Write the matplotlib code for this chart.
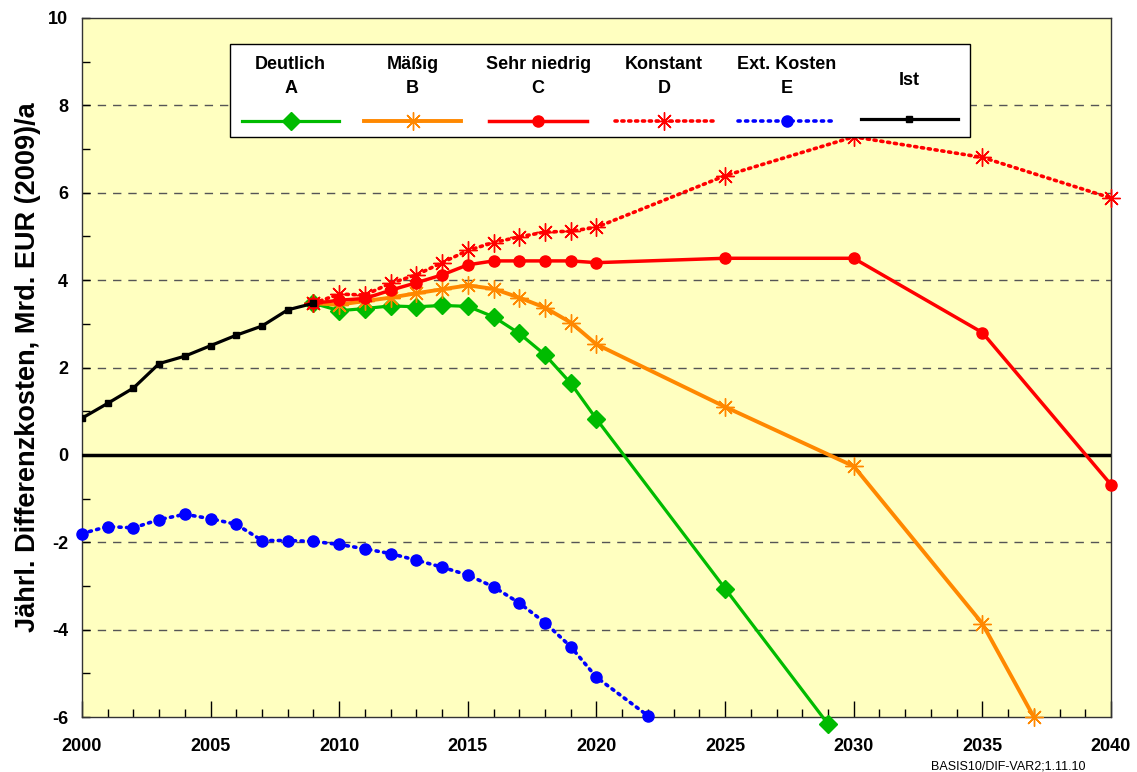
import numpy as np
import matplotlib
matplotlib.use("Agg")
import matplotlib.pyplot as plt
from matplotlib.ticker import MultipleLocator
from matplotlib.offsetbox import VPacker, DrawingArea

plt.rcParams["font.family"] = ["Liberation Sans", "DejaVu Sans"]
plt.rcParams["axes.unicode_minus"] = False

# --- data ---
years_ist = [2000, 2001, 2002, 2003, 2004, 2005, 2006, 2007, 2008, 2009]
ist = [0.84, 1.18, 1.53, 2.09, 2.26, 2.50, 2.74, 2.95, 3.32, 3.47]

years_scen = [2009, 2010, 2011, 2012, 2013, 2014, 2015, 2016, 2017, 2018, 2019, 2020,
              2025, 2030, 2035, 2040]
deutlich_years = [2009, 2010, 2011, 2012, 2013, 2014, 2015, 2016, 2017, 2018, 2019, 2020,
                  2025, 2029]
deutlich = [3.47, 3.30, 3.35, 3.41, 3.39, 3.42, 3.40, 3.16, 2.78, 2.29, 1.64, 0.82,
            -3.06, -6.16]
maessig_years = [2009, 2010, 2011, 2012, 2013, 2014, 2015, 2016, 2017, 2018, 2019, 2020,
                 2025, 2030, 2035, 2037]
maessig = [3.47, 3.44, 3.52, 3.60, 3.70, 3.79, 3.88, 3.80, 3.60, 3.37, 3.03, 2.53,
           1.10, -0.26, -3.86, -6.0]
sehr_niedrig = [3.47, 3.54, 3.58, 3.77, 3.94, 4.12, 4.35, 4.44, 4.44, 4.44, 4.44, 4.40,
                4.50, 4.50, 2.80, -0.68]
konstant = [3.47, 3.68, 3.66, 3.93, 4.12, 4.40, 4.68, 4.86, 4.99, 5.10, 5.12, 5.21,
            6.39, 7.28, 6.81, 5.88]
ext_years = [2000, 2001, 2002, 2003, 2004, 2005, 2006, 2007, 2008, 2009, 2010, 2011,
             2012, 2013, 2014, 2015, 2016, 2017, 2018, 2019, 2020, 2022]
ext_kosten = [-1.80, -1.64, -1.67, -1.48, -1.36, -1.46, -1.59, -1.96, -1.96, -1.98, -2.05,
              -2.15, -2.26, -2.41, -2.57, -2.75, -3.02, -3.39, -3.84, -4.39, -5.09, -5.97]

labels = ["Deutlich\nA", "Mäßig\nB", "Sehr niedrig\nC", "Konstant\nD", "Ext. Kosten\nE", "Ist"]

fig = plt.figure(figsize=(11.37, 7.72), dpi=100)
ax = fig.add_axes([0.0721, 0.0712, 0.905, 0.9055])
ax.set_facecolor("#FFFFC0")

star = (8, 2, 0)
h_a, = ax.plot(deutlich_years, deutlich, color="#00BB00", lw=2.3, marker="D",
               markersize=9, clip_on=False, zorder=4)
h_b, = ax.plot(maessig_years, maessig, color="#FF8800", lw=2.8, marker=star,
               markersize=13, mew=1.0, clip_on=False, zorder=4)
h_c, = ax.plot(years_scen, sehr_niedrig, color="#FF0000", lw=2.5, marker="o",
               markersize=8, clip_on=False, zorder=5)
h_d, = ax.plot(years_scen, konstant, color="#FF0000", lw=2.6, ls=(0, (0.6, 1.3)),
               dash_capstyle="round", marker=star, markersize=13, mew=1.0,
               clip_on=False, zorder=5)
h_e, = ax.plot(ext_years, ext_kosten, color="#0000FF", lw=2.6, ls=(0, (0.6, 1.5)),
               dash_capstyle="round", marker="o", markersize=8, clip_on=False, zorder=4)
h_ist, = ax.plot(years_ist, ist, color="black", lw=2.3, marker="s", markersize=4,
                 zorder=6)

ax.axhline(0, color="black", lw=2.5, zorder=3)
for yv in [-4, -2, 2, 4, 6, 8]:
    ax.axhline(yv, color="#555555", lw=1.0, ls=(0, (6, 5)), zorder=1)

ax.set_xlim(2000, 2040)
ax.set_ylim(-6, 10)
ax.xaxis.set_major_locator(MultipleLocator(5))
ax.xaxis.set_minor_locator(MultipleLocator(1))
ax.yaxis.set_major_locator(MultipleLocator(2))
ax.yaxis.set_minor_locator(MultipleLocator(1))
ax.tick_params(axis="x", which="major", direction="in", length=11.5, width=1.0,
               pad=15, labelsize=13)
ax.tick_params(axis="x", which="minor", direction="in", length=5.8, width=1.0)
ax.tick_params(axis="y", which="both", direction="in", length=5.8, width=1.0,
               pad=10, labelsize=13)
for lab in ax.get_xticklabels() + ax.get_yticklabels():
    lab.set_fontweight("bold")
for sp in ax.spines.values():
    sp.set_color("#333333")
    sp.set_linewidth(1.0)

ax.set_ylabel("Jährl. Differenzkosten, Mrd. EUR (2009)/a", fontsize=19.5,
              fontweight="bold")
ax.yaxis.set_label_coords(-0.04, 0.5)

leg = ax.legend([h_a, h_b, h_c, h_d, h_e, h_ist], labels, ncol=6,
                loc="upper left", bbox_to_anchor=(0.144, 0.963), borderaxespad=0,
                frameon=True, fancybox=False, edgecolor="black", framealpha=1,
                handlelength=5.4, handleheight=0.5, columnspacing=1.35,
                borderpad=0.65, prop={"weight": "bold", "size": 13})
leg.get_frame().set_linewidth(1.0)
leg.set_zorder(10)

# put each label above its line sample
SEP = 13
for txt in leg.get_texts():
    txt.set_horizontalalignment("center")
    txt.set_multialignment("center")
    txt.set_linespacing(1.55)
leg._legend_handle_box.align = "top"
cols = leg._legend_handle_box.get_children()
for col in cols:
    for item in col.get_children():
        item.__class__ = VPacker
        item._children = item._children[::-1]
        item.align = "center"
        item.sep = SEP
# single-line "Ist" sits half a line lower, its line stays level with the others
ist_drop = 11.9
ist_item = cols[-1].get_children()[0]
ist_text, ist_handle = ist_item._children
ist_top = VPacker(pad=0, sep=0, align="center",
                  children=[DrawingArea(1, ist_drop), ist_text])
ist_item._children = [ist_top, ist_handle]
ist_item.sep = SEP + 16.6 - ist_drop

fig.text(0.955, -0.001, "BASIS10/DIF-VAR2;1.11.10", fontsize=9, ha="right",
         va="bottom")

fig.savefig("out.png", dpi=100)
